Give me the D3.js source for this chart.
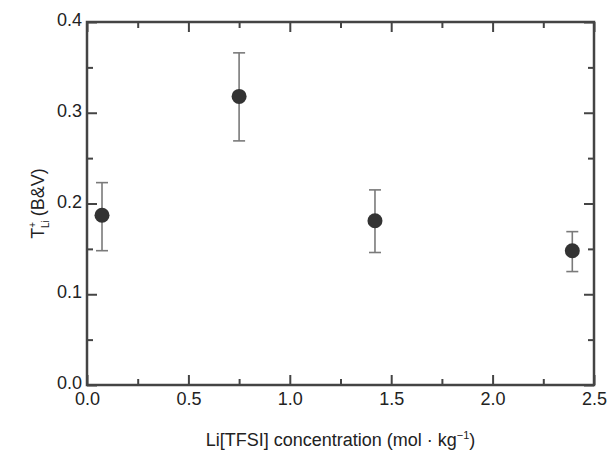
<!DOCTYPE html>
<html>
<head>
<meta charset="utf-8">
<script src="https://cdn.jsdelivr.net/npm/d3@7"></script>
<style>
  html, body { margin: 0; padding: 0; background: #fff; }
  svg { display: block; }
  text { font-family: "Liberation Sans", Arial, sans-serif; fill: #222; }
</style>
</head>
<body>
<svg id="chart" width="607" height="450"></svg>
<script>
// ---- data ----
const concentration = [0.074, 0.75, 1.42, 2.393];
const transference = [0.187, 0.318, 0.181, 0.148];
const errLow = [0.148, 0.269, 0.146, 0.125];
const errHigh = [0.223, 0.366, 0.215, 0.169];
const xTicks = [0, 0.5, 1.0, 1.5, 2.0, 2.5];
const xMinor = [0.25, 0.75, 1.25, 1.75, 2.25];
const yTicks = [0, 0.1, 0.2, 0.3, 0.4];
const yMinor = [0.05, 0.15, 0.25, 0.35];

const svg = d3.select("#chart");
const L = 87, R = 594, T = 22, B = 385;
const x = d3.scaleLinear().domain([0, 2.5]).range([L, R]);
const y = d3.scaleLinear().domain([0, 0.4]).range([B, T]);

const axisColor = "#444";
const FS = 18;
function styleAxis(g) {
  g.select(".domain").remove();
  g.selectAll(".tick line").attr("stroke", axisColor).attr("stroke-width", 2);
  g.selectAll(".tick text").attr("font-size", FS).attr("fill", "#222");
}

// major ticks with labels
svg.append("g").attr("transform", `translate(0,${B})`)
  .call(d3.axisBottom(x).tickValues(xTicks).tickFormat(d3.format(".1f")).tickSizeInner(-10).tickSizeOuter(0))
  .call(styleAxis)
  .call(g => g.selectAll(".tick text").attr("y", 20).attr("dy", 0));
svg.append("g").attr("transform", `translate(${L},0)`)
  .call(d3.axisLeft(y).tickValues(yTicks).tickFormat(d3.format(".1f")).tickSizeInner(-10).tickSizeOuter(0))
  .call(styleAxis)
  .call(g => g.selectAll(".tick text").attr("x", -5).attr("dy", "0.2em"));
// top and right major ticks without labels
svg.append("g").attr("transform", `translate(0,${T})`)
  .call(d3.axisTop(x).tickValues(xTicks).tickFormat("").tickSizeInner(-10).tickSizeOuter(0))
  .call(styleAxis);
svg.append("g").attr("transform", `translate(${R},0)`)
  .call(d3.axisRight(y).tickValues(yTicks).tickFormat("").tickSizeInner(-10).tickSizeOuter(0))
  .call(styleAxis);
// minor ticks
svg.append("g").attr("transform", `translate(0,${B})`)
  .call(d3.axisBottom(x).tickValues(xMinor).tickFormat("").tickSizeInner(-6).tickSizeOuter(0)).call(styleAxis);
svg.append("g").attr("transform", `translate(0,${T})`)
  .call(d3.axisTop(x).tickValues(xMinor).tickFormat("").tickSizeInner(-6).tickSizeOuter(0)).call(styleAxis);
svg.append("g").attr("transform", `translate(${L},0)`)
  .call(d3.axisLeft(y).tickValues(yMinor).tickFormat("").tickSizeInner(-6).tickSizeOuter(0)).call(styleAxis);
svg.append("g").attr("transform", `translate(${R},0)`)
  .call(d3.axisRight(y).tickValues(yMinor).tickFormat("").tickSizeInner(-6).tickSizeOuter(0)).call(styleAxis);

// frame
svg.append("rect")
  .attr("x", L).attr("y", T).attr("width", R - L).attr("height", B - T)
  .attr("fill", "none").attr("stroke", axisColor).attr("stroke-width", 2.5);

// error bars
const pts = concentration.map((c, i) => ({ c, v: transference[i], lo: errLow[i], hi: errHigh[i] }));
const eb = svg.append("g").attr("stroke", "#7a7a7a").attr("stroke-width", 1.6);
pts.forEach(p => {
  eb.append("line").attr("x1", x(p.c)).attr("x2", x(p.c)).attr("y1", y(p.lo)).attr("y2", y(p.hi));
  eb.append("line").attr("x1", x(p.c) - 6).attr("x2", x(p.c) + 6).attr("y1", y(p.lo)).attr("y2", y(p.lo));
  eb.append("line").attr("x1", x(p.c) - 6).attr("x2", x(p.c) + 6).attr("y1", y(p.hi)).attr("y2", y(p.hi));
});

// points
svg.append("g").selectAll("circle").data(pts).join("circle")
  .attr("cx", d => x(d.c)).attr("cy", d => y(d.v)).attr("r", 7.5)
  .attr("fill", "#333");

// axis titles
const yt = svg.append("text")
  .attr("transform", `translate(44,${(T + B) / 2}) rotate(-90)`)
  .attr("text-anchor", "middle").attr("font-size", FS);
yt.append("tspan").text("T");
yt.append("tspan").attr("font-size", 10).attr("dy", -8).text("+");
yt.append("tspan").attr("font-size", 10).attr("dy", 13).attr("dx", -6).text("Li");
yt.append("tspan").attr("dy", -5).attr("dx", 4).text("(B&V)");

const xt = svg.append("text")
  .attr("x", (L + R) / 2).attr("y", 446)
  .attr("text-anchor", "middle").attr("font-size", FS);
xt.append("tspan").text("Li[TFSI] concentration (mol · kg");
xt.append("tspan").attr("font-size", 11).attr("dy", -7).text("−1");
xt.append("tspan").attr("dy", 7).text(")");
</script>
</body>
</html>
